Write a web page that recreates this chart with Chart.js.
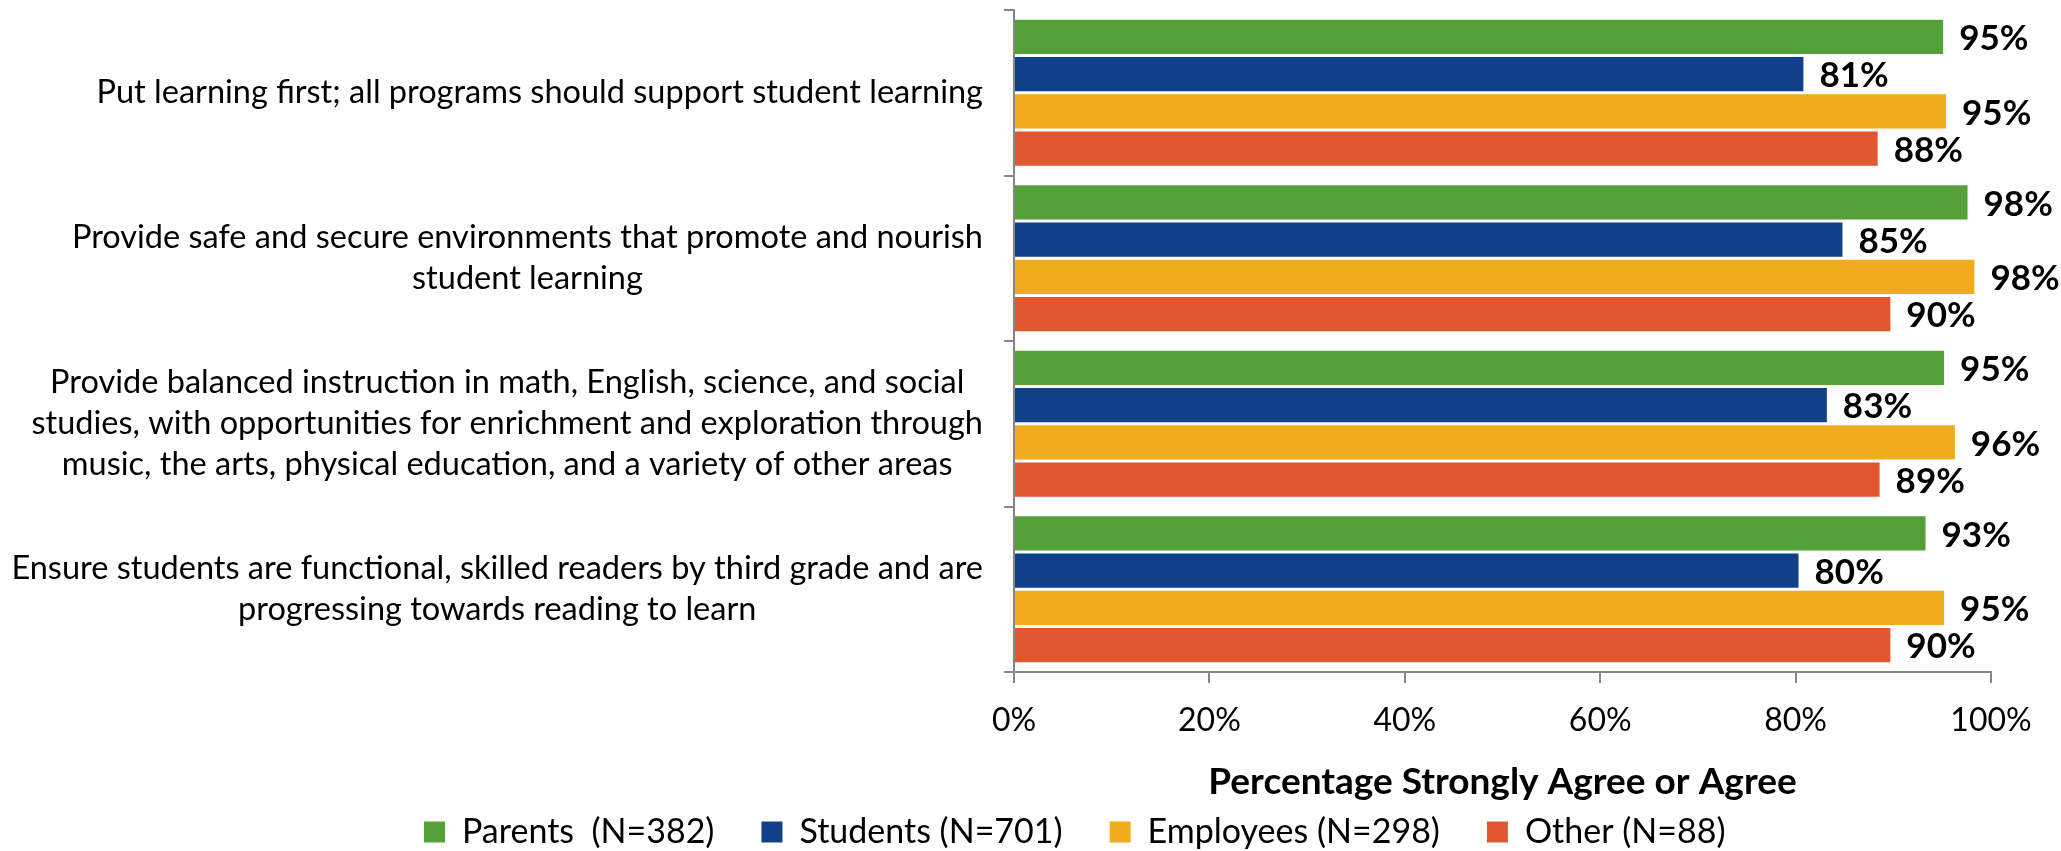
<!DOCTYPE html>
<html>
<head>
<meta charset="utf-8">
<script src="https://cdn.jsdelivr.net/npm/chart.js@4/dist/chart.umd.min.js"></script>
<style>
  html, body { margin: 0; padding: 0; background: #fff; }
  #wrap { width: 2061px; height: 851px; }
</style>
</head>
<body>
<div id="wrap"><canvas id="chart"></canvas></div>
<script>
// category labels (one entry per line)
const categories = [
  ["Put learning first; all programs should support student learning"],
  ["Provide safe and secure environments that promote and nourish", "student learning"],
  ["Provide balanced instruction in math, English, science, and social",
   "studies, with opportunities for enrichment and exploration through",
   "music, the arts, physical education, and a variety of other areas"],
  ["Ensure students are functional, skilled readers by third grade and are",
   "progressing towards reading to learn"]
];
const seriesNames = ["Parents  (N=382)", "Students (N=701)", "Employees (N=298)", "Other (N=88)"];
const parents = [95.1, 97.6, 95.2, 93.3];
const students = [80.8, 84.8, 83.2, 80.3];
const employees = [95.4, 98.3, 96.3, 95.2];
const other = [88.4, 89.7, 88.6, 89.7];
const xTicks = [0, 20, 40, 60, 80, 100];
const colors = ["#54A13A", "#124189", "#F0AC1D", "#E25630"];

const FONT = "Lato";
const AXIS = "#868686";
const PAD_LEFT = 377; // pushes the legend start to the right

// multi-line category labels, each block right aligned with centred lines
const yLabels = {
  id: "yLabels",
  afterDraw(chart) {
    const { ctx } = chart;
    const y = chart.scales.y;
    ctx.save();
    ctx.font = "32.5px " + FONT;
    ctx.fillStyle = "#000";
    ctx.textAlign = "center";
    ctx.textBaseline = "middle";
    const right = y.right - 31;
    categories.forEach((lines, i) => {
      const w = Math.max(...lines.map(l => ctx.measureText(l).width));
      const cx = right - w / 2;
      const cy = y.getPixelForValue(i);
      lines.forEach((l, j) => ctx.fillText(l, cx, cy + (j - (lines.length - 1) / 2) * 41));
    });
    ctx.restore();
  }
};

// value labels at the end of each bar
const barValues = {
  id: "barValues",
  afterDatasetsDraw(chart) {
    const { ctx } = chart;
    ctx.save();
    ctx.font = "bold 35px " + FONT;
    ctx.fillStyle = "#000";
    ctx.textAlign = "left";
    ctx.textBaseline = "middle";
    chart.data.datasets.forEach((ds, di) => {
      chart.getDatasetMeta(di).data.forEach((bar, i) => {
        ctx.fillText(Math.round(ds.data[i]) + "%", bar.x + 16, bar.y + 2);
      });
    });
    ctx.restore();
  }
};

const ctx = document.getElementById("chart").getContext("2d");
const seriesData = [parents, students, employees, other];

new Chart(ctx, {
  type: "bar",
  data: {
    labels: categories,
    datasets: seriesNames.map((name, i) => ({
      label: name,
      data: seriesData[i],
      backgroundColor: colors[i],
      borderWidth: 0,
      barPercentage: 0.92,
      categoryPercentage: 0.9
    }))
  },
  options: {
    indexAxis: "y",
    responsive: true,
    maintainAspectRatio: false,
    animation: false,
    layout: { padding: { top: 10, right: 48, bottom: -8, left: PAD_LEFT } },
    scales: {
      x: {
        min: 0,
        max: 100,
        afterBuildTicks: s => { s.ticks = xTicks.map(v => ({ value: v })); },
        afterFit: s => { s.height = 96; s.paddingRight = 70; },
        grid: { drawOnChartArea: false, color: AXIS, lineWidth: 2, tickLength: 11 },
        border: { color: AXIS, width: 2 },
        ticks: {
          color: "#000",
          font: { family: FONT, size: 32 },
          padding: 18,
          maxRotation: 0,
          callback: v => v + "%"
        },
        title: {
          display: true,
          text: "Percentage Strongly Agree or Agree",
          color: "#000",
          font: { family: FONT, size: 37, weight: "bold" },
          padding: { top: 0, bottom: -36 }
        }
      },
      y: {
        afterFit: s => { s.width = 1014 - PAD_LEFT; },
        grid: { drawOnChartArea: false, color: AXIS, lineWidth: 2, tickLength: 10, offset: true },
        border: { color: AXIS, width: 2 },
        ticks: { display: false }
      }
    },
    plugins: {
      legend: {
        position: "bottom",
        align: "start",
        labels: {
          color: "#000",
          font: { family: FONT, size: 34 },
          boxWidth: 21,
          boxHeight: 21,
          padding: 47
        }
      },
      tooltip: { enabled: false }
    }
  },
  plugins: [yLabels, barValues]
});
</script>
</body>
</html>
